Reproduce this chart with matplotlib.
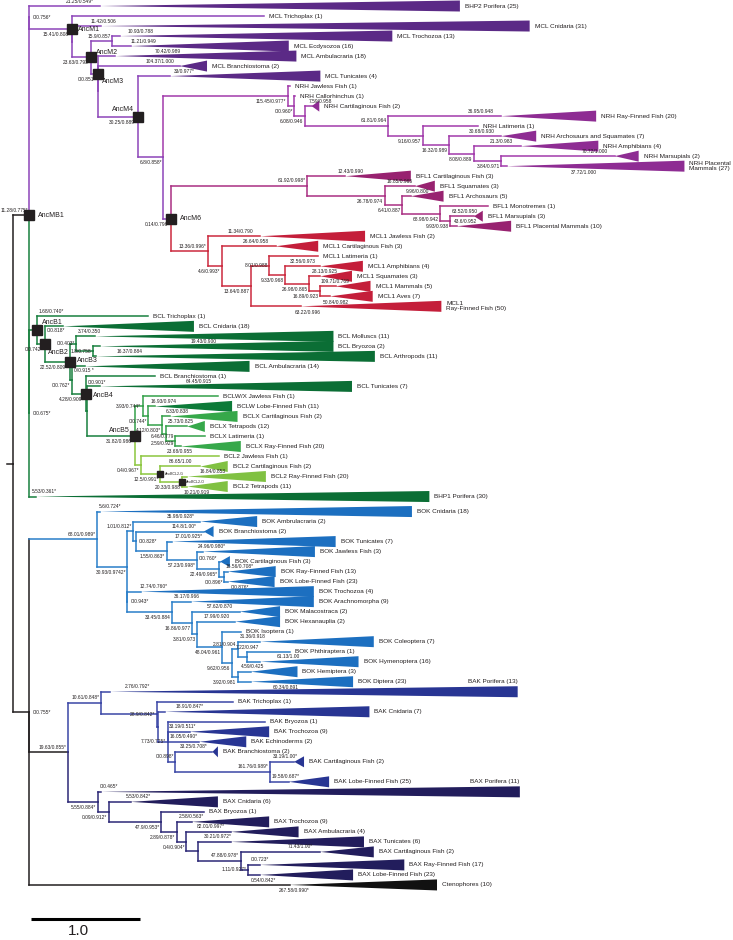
import matplotlib
matplotlib.use("Agg")
import matplotlib.pyplot as plt
from matplotlib.patches import Polygon

plt.rcParams['font.family'] = ['Liberation Sans', 'DejaVu Sans']


def leaf(name, count, length, depth=0.0, support=None):
    return dict(name=name, count=count, len=length, depth=depth,
                support=support, kids=[], anc=None)


def node(length, support, kids, anc=None):
    return dict(name=None, count=None, len=length, depth=0.0,
                support=support, kids=kids, anc=anc)


# ---- tree data: branch lengths (subst./site), collapsed clade depth, support ----
NRH = node(1.14, "115.45/0.977*", [
    leaf("NRH Jawless Fish", 1, 0.02),
    node(0.06, "0/0.960*", [
        leaf("NRH Callorhinchus", 1, 0.01),
        node(0.10, "6.08/0.946", [
            leaf("NRH Cartilaginous Fish", 2, 0.06, 0.07, "7.59/0.958"),
            node(0.76, "61.81/0.964", [
                leaf("NRH Ray-Finned Fish", 20, 1.04, 0.87, "36.95/0.948"),
                node(0.32, "9.16/0.957", [
                    leaf("NRH Latimeria", 1, 0.51),
                    node(0.24, "16.32/0.989", [
                        leaf("NRH Archosaurs and Squamates", 7, 0.48, 0.32, "30.68/0.930"),
                        node(0.23, "8.08/0.889", [
                            leaf("NRH Amphibians", 4, 0.43, 0.71, "21.3/0.983"),
                            node(0.25, "3.84/0.971", [
                                leaf("NRH Marsupials", 2, 1.04, 0.22, "70.72/1.000"),
                                leaf("NRH Placental\nMammals", 27, 0.05, 1.63, "37.72/1.000"),
                            ]),
                        ]),
                    ]),
                ]),
            ]),
        ]),
    ]),
])

BFL1 = node(1.25, "61.92/0.998*", [
    leaf("BFL1 Cartilaginous Fish", 3, 0.35, 0.60, "12.43/0.990"),
    node(0.71, "26.78/0.974", [
        leaf("BFL1 Squamates", 3, 0.28, 0.18, "16.85/0.965"),
        node(0.16, "6.41/0.887", [
            leaf("BFL1 Archosaurs", 5, 0.08, 0.30, "9.96/0.800"),
            node(0.35, "68.98/0.942", [
                leaf("BFL1 Monotremes", 1, 0.44),
                node(0.09, "9.93/0.938", [
                    leaf("BFL1 Marsupials", 3, 0.22, 0.08, "63.52/0.950"),
                    leaf("BFL1 Placental Mammals", 10, 0.06, 0.50, "43.6/0.952"),
                ]),
            ]),
        ]),
    ]),
])

MCL1 = node(0.34, "13.36/0.996*", [
    leaf("MCL1 Jawless Fish", 2, 0.48, 0.96, "11.34/0.790"),
    node(0.13, "4.6/0.993*", [
        leaf("MCL1 Cartilaginous Fish", 3, 0.49, 0.39, "26.64/0.958"),
        node(0.26, "13.64/0.887", [
            node(0.17, "8.01/0.988", [
                leaf("MCL1 Latimeria", 1, 0.45),
                node(0.15, "9.33/0.968", [
                    leaf("MCL1 Amphibians", 4, 0.32, 0.39, "32.56/0.973"),
                    node(0.22, "26.98/0.865", [
                        leaf("MCL1 Squamates", 3, 0.10, 0.29, "28.13/0.925"),
                        node(0.10, "16.89/0.923", [
                            leaf("MCL1 Mammals", 5, 0.14, 0.32, "109.71/0.769"),
                            leaf("MCL1 Aves", 7, 0.09, 0.39, "50.84/0.982"),
                        ]),
                    ]),
                ]),
            ]),
            leaf("MCL1\nRay-Finned Fish", 50, 0.46, 1.29, "63.22/0.996"),
        ]),
    ]),
])

MCL = node(0.0, "0/0.756*", [
    leaf("BHP2 Porifera", 25, 0.65, 3.30, "21.25/0.549*"),
    node(0.39, "15.41/0.808*", [
        leaf("MCL Trichoplax", 1, 1.76),
        node(0.0, None, [
            leaf("MCL Cnidaria", 31, 0.27, 3.93, "11.42/0.506"),
            node(0.18, "23.63/0.793*", [
                node(0.19, "15.9/0.857", [
                    leaf("MCL Trochozoa", 13, 0.07, 2.50, "10.93/0.788"),
                    leaf("MCL Ecdysozoa", 16, 0.17, 1.45, "11.21/0.949"),
                ]),
                node(0.06, "0/0.851*", [
                    leaf("MCL Ambulacraria", 18, 0.16, 1.66, "70.42/0.989"),
                    node(0.0, None, [
                        leaf("MCL Branchiostoma", 2, 0.75, 0.25, "104.37/1.000"),
                        node(0.37, "30.25/0.889*", [
                            leaf("MCL Tunicates", 4, 0.29, 1.38, "33/0.977*"),
                            node(0.23, "6.8/0.858*", [
                                NRH,
                                node(0.07, "0.14/0.796*", [BFL1, MCL1], anc="AncM6"),
                            ]),
                        ], anc="AncM4"),
                    ]),
                ], anc="AncM3"),
            ], anc="AncM2"),
        ]),
    ], anc="AncM1"),
])

BCL2 = node(0.05, "0.4/0.967*", [
    leaf("BCL2 Jawless Fish", 1, 0.72, 0.0, "23.68/0.955"),
    node(0.18, "12.5/0.991*", [
        leaf("BCL2 Cartilaginous Fish", 2, 0.37, 0.25, "86.65/1.00"),
        node(0.20, "20.33/0.988", [
            leaf("BCL2 Ray-Finned Fish", 20, 0.05, 0.72, "16.84/0.853"),
            leaf("BCL2 Tetrapods", 11, 0.05, 0.37, "10.21/0.919"),
        ], anc="AncBCL2-O"),
    ], anc="AncBCL2-G"),
])

BCLWX = node(0.07, "3.93/0.744*", [
    leaf("BCLW/X Jawless Fish", 1, 0.69),
    node(0.05, "0/0.744*", [
        leaf("BCLW Lobe-Finned Fish", 11, 0.06, 0.71, "16.93/0.974"),
        node(0.13, "4.12/0.803*", [
            leaf("BCLX Cartilaginous Fish", 2, 0.07, 0.62, "6.33/0.838"),
            node(0.03, None, [
                leaf("BCLX Tetrapods", 12, 0.20, 0.16, "25.73/0.825"),
                node(0.09, "6.46/0.779", [
                    leaf("BCLX Latimeria", 1, 0.27),
                    leaf("BCLX Ray-Finned Fish", 20, 0.05, 0.55, "2.59/0.929"),
                ]),
            ]),
        ]),
    ]),
])

BCL = node(0.0, "0/0.675*", [
    node(0.07, None, [
        leaf("BCL Trichoplax", 1, 1.02, 0.0, "1.68/0.740*"),
        node(0.07, "0/0.742*", [
            leaf("BCL Cnidaria", 18, 0.17, 1.20, "0/0.818*"),
            node(0.23, "22.52/0.809*", [
                node(0.06, "0/0.403*", [
                    leaf("BCL Molluscs", 11, 0.17, 2.19, "3.74/0.350"),
                    node(0.15, "1.8/0.758", [
                        leaf("BCL Bryozoa", 2, 0.07, 2.14, "19.43/0.900"),
                        leaf("BCL Arthropods", 11, 0.03, 2.56, "16.37/0.884"),
                    ]),
                ]),
                node(0.02, "0/0.762*", [
                    leaf("BCL Ambulacraria", 14, 0.12, 1.51, "0/0.915 *"),
                    node(0.13, "4.28/0.909*", [
                        leaf("BCL Branchiostoma", 1, 0.63),
                        node(0.01, "0/0.901*", [
                            leaf("BCL Tunicates", 7, 0.12, 2.31, "64.45/0.915"),
                            node(0.44, "31.82/0.986*", [BCLWX, BCL2], anc="AncB5"),
                        ]),
                    ], anc="AncB4"),
                ]),
            ], anc="AncB3"),
        ], anc="AncB2"),
    ], anc="AncB1"),
    leaf("BHP1 Porifera", 30, 0.06, 3.61, "5.53/0.361*"),
])

BOK = node(0.62, "68.01/0.989*", [
    leaf("BOK Cnidaria", 18, 0.03, 2.86, "5.6/0.724*"),
    node(0.28, "30.93/0.9742*", [
        node(0.05, "1.01/0.812*", [
            leaf("BOK Ambrulacraria", 2, 0.62, 0.52, "35.98/0.928*"),
            node(0.03, "0/0.828*", [
                leaf("BOK Branchiostoma", 2, 0.62, 0.09, "114.8/1.00*"),
                node(0.28, "1.55/0.863*", [
                    leaf("BOK Tunicates", 7, 0.05, 1.50, "17.01/0.925*"),
                    node(0.28, "57.23/0.998*", [
                        leaf("BOK Jawless Fish", 3, 0.05, 1.03, "24.96/0.980*"),
                        node(0.20, "22.49/0.965*", [
                            leaf("BOK Cartilaginous Fish", 3, 0.01, 0.09, "0/0.760*"),
                            node(0.05, "0/0.896*", [
                                leaf("BOK Ray-Finned Fish", 13, 0.03, 0.44, "16.56/0.708*"),
                                leaf("BOK Lobe-Finned Fish", 23, 0.03, 0.43, "0/0.876*"),
                            ]),
                        ]),
                    ]),
                ]),
            ]),
        ]),
        node(0.0, "0/0.943*", [
            leaf("BOK Trochozoa", 4, 0.12, 1.59, "12.74/0.760*"),
            node(0.41, "33.45/0.884", [
                leaf("BOK Arachnomorpha", 9, 0.17, 1.13, "36.17/0.966"),
                node(0.18, "16.86/0.977", [
                    leaf("BOK Malacostraca", 2, 0.44, 0.37, "57.62/0.870"),
                    node(0.05, "3.81/0.973", [
                        leaf("BOK Hexanauplia", 2, 0.35, 0.41, "17.99/0.920"),
                        node(0.23, "48.04/0.961", [
                            leaf("BOK Isoptera", 1, 0.17),
                            node(0.09, "9.62/0.956", [
                                node(0.05, "2.81/0.904", [
                                    leaf("BOK Coleoptera", 7, 0.21, 1.04, "31.36/0.918"),
                                    node(0.09, "7.22/0.947", [
                                        leaf("BOK Phthiraptera", 1, 0.39),
                                        leaf("BOK Hymenoptera", 16, 0.12, 0.90, "61.13/1.00"),
                                    ]),
                                ]),
                                node(0.05, "3.92/0.981", [
                                    leaf("BOK Hemiptera", 3, 0.12, 0.43, "4.59/0.425"),
                                    leaf("BOK Diptera", 23, 0.12, 0.94, "60.34/0.891"),
                                ]),
                            ]),
                        ]),
                    ]),
                ]),
            ]),
        ]),
    ]),
])

BAK = node(0.31, "10.61/0.848*", [
    leaf("BAK Porifera", 13, 0.08, 3.74, "2.76/0.792*"),
    node(0.51, "28.9/0.842*", [
        leaf("BAK Trichoplax", 1, 0.70),
        node(0.01, None, [
            leaf("BAK Cnidaria", 7, 0.06, 1.88, "18.91/0.847*"),
            node(0.09, "7.73/0.725*", [
                leaf("BAK Bryozoa", 1, 0.89),
                leaf("BAK Trochozoa", 9, 0.20, 0.73, "33.19/0.511*"),
                leaf("BAK Echinoderms", 2, 0.29, 0.43, "16.05/0.490*"),
                node(0.07, "0/0.898*", [
                    leaf("BAK Branchiostoma", 2, 0.34, 0.05, "33.25/0.708*"),
                    node(0.87, "161.76/0.989*", [
                        leaf("BAK Cartilaginous Fish", 2, 0.22, 0.09, "33.19/1.00*"),
                        leaf("BAK Lobe-Finned Fish", 25, 0.17, 0.37, "19.58/0.687*"),
                    ]),
                ]),
            ]),
        ]),
    ]),
])

BAX = node(0.28, "5.55/0.884*", [
    leaf("BAX Porifera", 11, 0.03, 3.84, "0/0.465*"),
    node(0.10, "0.09/0.912*", [
        leaf("BAX Cnidaria", 6, 0.20, 0.80, "5.53/0.842*"),
        node(0.48, "47.9/0.953*", [
            leaf("BAX Bryozoa", 1, 0.39),
            node(0.14, "2.89/0.878*", [
                leaf("BAX Trochozoa", 9, 0.14, 0.71, "2.58/0.563*"),
                node(0.09, "0.4/0.904*", [
                    leaf("BAX Ambulacraria", 4, 0.41, 0.62, "82.01/0.997*"),
                    node(0.11, None, [
                        leaf("BAX Tunicates", 6, 0.30, 1.22, "30.21/0.972*"),
                        node(0.39, "47.88/0.978*", [
                            leaf("BAX Cartilaginous Fish", 2, 0.73, 0.49, "71.43/1.00*"),
                            node(0.07, "1.11/0.927*", [
                                leaf("BAX Ray-Finned Fish", 17, 0.11, 1.32, "0/0.723*"),
                                leaf("BAX Lobe-Finned Fish", 23, 0.11, 0.85, "0.54/0.842*"),
                            ]),
                        ]),
                    ]),
                ]),
            ]),
        ]),
    ]),
])

LOWER = node(0.15, "0/0.755*", [
    BOK,
    node(0.35, "19.63/0.855*", [BAK, BAX]),
    leaf("Ctenophores", 10, 2.39, 1.35, "267.58/0.990*"),
])
ROOT = node(0.0, None, [
    node(0.15, "11.28/0.775*", [MCL, BCL], anc="AncMB1"),
    LOWER,
])

# ---- styling / layout tables ----
LINE_COLORS = {'mcl': '#8d45b9', 'nrh': '#a23aab', 'bfl': '#aa2f82', 'mcl1': '#cb2a3e',
               'bcl': '#19803f', 'bclwx': '#33a049', 'bcl2': '#8cc63f', 'bok': '#2a7ec9',
               'bak': '#3a46a6', 'bax': '#2c2877', 'root': '#231f20'}
FILL_COLORS = [('BHP2', '#5b2a86'), ('MCL1', '#c41e3a'), ('MCL', '#5b2a86'),
               ('NRH', '#8e2c93'), ('BFL1', '#982270'), ('BCLW ', '#0c7a38'),
               ('BCLX', '#36a84a'), ('BCL2', '#80c142'), ('BCL', '#0b6e35'),
               ('BHP1', '#0b6e35'), ('BOK', '#1c6fc0'), ('BAK', '#283593'),
               ('BAX', '#221d5c'), ('Cteno', '#111111')]

# extra vertical spacing (rows) inserted before these leaves
ROW_GAPS = {"BOK Cnidaria": 0.5, "BAK Lobe-Finned Fish": 1.0, "BAX Ray-Finned Fish": 0.3}

LABEL_POS = {
    "11.28/0.775*": 'al', "61.92/0.998*": 'al', "13.36/0.996*": 'al', "68.01/0.989*": 'al',
    "19.63/0.855*": 'al', "10.61/0.848*": 'al', "161.76/0.989*": 'al', "15.9/0.857": 'al',
    "6.46/0.779": 'al', "2.81/0.904": 'al', "47.88/0.978*": 'al', "61.81/0.964": 'al',
    "1.01/0.812*": 'al', "0/0.898*": 'al',
    "8.01/0.988": 'ml', "0/0.403*": 'ml', "1.8/0.758": 'ml', "28.9/0.842*": 'ml',
    "7.73/0.725*": 'ml', "3.93/0.744*": 'ml', "1.11/0.927*": 'ml',
    "0/0.756*": 'r', "0/0.675*": 'r', "0/0.755*": 'r', "0/0.943*": 'r', "0/0.828*": 'r',
    "0/0.901*": 'fc', "7.22/0.947": 'ac',
    # leaf branch labels
    "37.72/1.000": 'b', "50.84/0.982": 'b', "63.22/0.996": 'b', "10.21/0.919": 'b',
    "60.34/0.891": 'b', "0.54/0.842*": 'b', "267.58/0.990*": 'b', "0/0.876*": 'b',
    "1.68/0.740*": 'al', "0/0.818*": 'alb', "3.74/0.350": 'al', "5.53/0.361*": 'al',
    "5.6/0.724*": 'al', "0/0.465*": 'al', "0/0.723*": 'al', "0/0.915 *": 'alb',
    "2.59/0.929": 'l', "0/0.760*": 'l',
}
LABEL_ALONG = {
    "70.42/0.989": 0.35, "19.43/0.900": 0.46, "64.45/0.915": 0.42, "16.37/0.884": 0.13,
    "11.42/0.506": 0.07, "10.93/0.788": 0.10, "11.21/0.949": 0.18, "17.01/0.925*": 0.13,
    "18.91/0.847*": 0.15, "30.21/0.972*": 0.12, "12.74/0.760*": 0.14, "2.76/0.792*": 0.086,
    "5.53/0.842*": 0.27, "267.58/0.990*": 0.65, "37.72/1.000": 0.45, "12.43/0.990": 0.42,
    "63.22/0.996": 0.30, "33/0.977*": 0.25, "16.84/0.853": 0.36, "61.13/1.00": 0.37,
    "60.34/0.891": 0.42,
}
NAME_ABOVE = {"BAK Porifera", "BAX Porifera"}
ANC_TEXT = {  # dx px, dy px, ha, size
    "AncMB1": (9, 0, 'left', 5.0), "AncM1": (6, 1, 'left', 5.0), "AncM2": (5, -5, 'left', 5.0),
    "AncM3": (4, 8, 'left', 5.0), "AncM4": (-4, -7, 'right', 5.0), "AncM6": (9, 0, 'left', 5.0),
    "AncB1": (5, -8, 'left', 5.0), "AncB2": (3, 8, 'left', 5.0), "AncB3": (7, -1, 'left', 5.0),
    "AncB4": (7, 2, 'left', 5.0), "AncB5": (-5, -5, 'right', 5.0),
    "AncBCL2-G": (5, 0, 'left', 2.6), "AncBCL2-O": (4, 0, 'left', 2.6),
}

PX = 1 / 109.0     # tree units per pixel (scale bar 1.0 = 109 px)
PY = 1 / 10.01     # rows per pixel
TRI_H = 0.55       # half height of collapsed clades (rows)
LW = 1.1
TXT = '#231f20'


def paint(n, key):
    if 'col' not in n:
        n['col'] = LINE_COLORS[key]
    for k in n['kids']:
        paint(k, key)


for sub, key in [(NRH, 'nrh'), (BFL1, 'bfl'), (MCL1, 'mcl1'), (MCL, 'mcl'),
                 (BCL2, 'bcl2'), (BCLWX, 'bclwx'), (BCL, 'bcl'), (BOK, 'bok'),
                 (BAK, 'bak'), (BAX, 'bax'), (ROOT, 'root')]:
    paint(sub, key)
LOWER['vcol'] = LINE_COLORS['root']

row = [0.0]


def place(n, x0):
    n['x'] = x0 + n['len']
    if not n['kids']:
        row[0] += ROW_GAPS.get(n['name'], 0.0)
        n['y'] = row[0]
        row[0] += 1
    else:
        for k in n['kids']:
            place(k, n['x'])
        n['y'] = (n['kids'][0]['y'] + n['kids'][-1]['y']) / 2


place(ROOT, 0.0)


def fill_of(name):
    for pre, c in FILL_COLORS:
        if name.startswith(pre):
            return c
    return '#333333'


fig = plt.figure(figsize=(7.33, 9.40), dpi=100)
ax = fig.add_axes([0, 0, 1, 1])
ax.set_xlim(-13 * PX, 720 * PX)
ax.set_ylim(93.3, -0.6)
ax.axis('off')

boxes = []


def support_label(n, px):
    s = n['support']
    if not s:
        return
    code = LABEL_POS.get(s, 'a' if not n['kids'] else 'bl')
    x, y = n['x'], n['y']
    kw = dict(fontsize=3.5, color=TXT, va='center')
    if not n['kids']:
        tip = x + n['depth']
        if s in LABEL_ALONG:
            cx = px + LABEL_ALONG[s] * (tip - px)
        elif n['depth'] == 0:
            cx = (px + x) / 2
        else:
            cx = max((px + x) / 2, x - 20 * PX, px + 15 * PX)
        if code == 'a':
            ax.text(cx, y - 0.5, s, ha='center', **kw)
        elif code == 'b':
            ax.text(cx, y + 0.6, s, ha='center', **kw)
        elif code == 'al':
            ax.text(px + 2 * PX, y - 0.5, s, ha='left', **kw)
        elif code == 'alb':
            ax.text(px + 2 * PX, y + 0.45, s, ha='left', **kw)
        elif code == 'l':
            ax.text(px - 1.5 * PX, y - 0.3, s, ha='right', **kw)
        return
    if code == 'bl':
        ax.text(x - 1.5 * PX, y + 0.55, s, ha='right', **kw)
    elif code == 'al':
        ax.text(x - 1.5 * PX, y - 0.5, s, ha='right', **kw)
    elif code == 'ml':
        ax.text(x - 1.5 * PX, y, s, ha='right', **kw)
    elif code == 'r':
        ax.text(x + 3 * PX, y, s, ha='left', **kw)
    elif code == 'fc':
        ax.text(x + 1 * PX, n['kids'][0]['y'] - 0.4, s, ha='left', **kw)
    elif code == 'ac':
        ax.text(x + 0.5 * PX, y - 0.9, s, ha='center', **kw)


def draw(n, px):
    x, y = n['x'], n['y']
    if x > px:
        ax.plot([px, x], [y, y], color=n['col'], lw=LW, solid_capstyle='projecting', zorder=2)
    for k in n['kids']:
        ax.plot([x, x], [y, k['y']], color=n.get('vcol', k['col']), lw=LW,
                solid_capstyle='projecting', zorder=2)
        draw(k, x)
    if not n['kids']:
        tip = x + n['depth']
        if n['depth'] > 0:
            ax.add_patch(Polygon([(x, y), (tip, y - TRI_H), (tip, y + TRI_H)], closed=True,
                                 facecolor=fill_of(n['name']), edgecolor='none', zorder=3))
        text = f"{n['name']} ({n['count']})"
        if n['name'] in NAME_ABOVE:
            ax.text(tip, y - 1.05, text, fontsize=4.6, color=TXT, ha='right', va='center')
        else:
            ax.text(tip + 5 * PX, y, text, fontsize=4.6, color=TXT, ha='left',
                    va='center', linespacing=1.0)
    support_label(n, px)
    if n['anc']:
        boxes.append(n)


draw(ROOT, 0.0)
# root stub
ax.plot([-6 * PX, 0], [ROOT['y'], ROOT['y']], color=LINE_COLORS['root'], lw=LW)

for n in boxes:
    small = n['anc'].startswith('AncBCL2')
    ax.plot(n['x'], n['y'], marker='s', ms=5.0 if small else 6.6, color='#231f20', zorder=5)
    dx, dy, ha, fs = ANC_TEXT[n['anc']]
    ax.text(n['x'] + dx * PX, n['y'] + dy * PY, n['anc'], fontsize=fs, color=TXT,
            ha=ha, va='center', zorder=6)

# scale bar
ax.plot([18 * PX, 127 * PX], [91.2, 91.2], color='black', lw=2.2, solid_capstyle='butt')
ax.text(65 * PX, 92.45, "1.0", fontsize=11, ha='center', va='center', color=TXT)

fig.savefig("out.png", dpi=100, facecolor='white')
